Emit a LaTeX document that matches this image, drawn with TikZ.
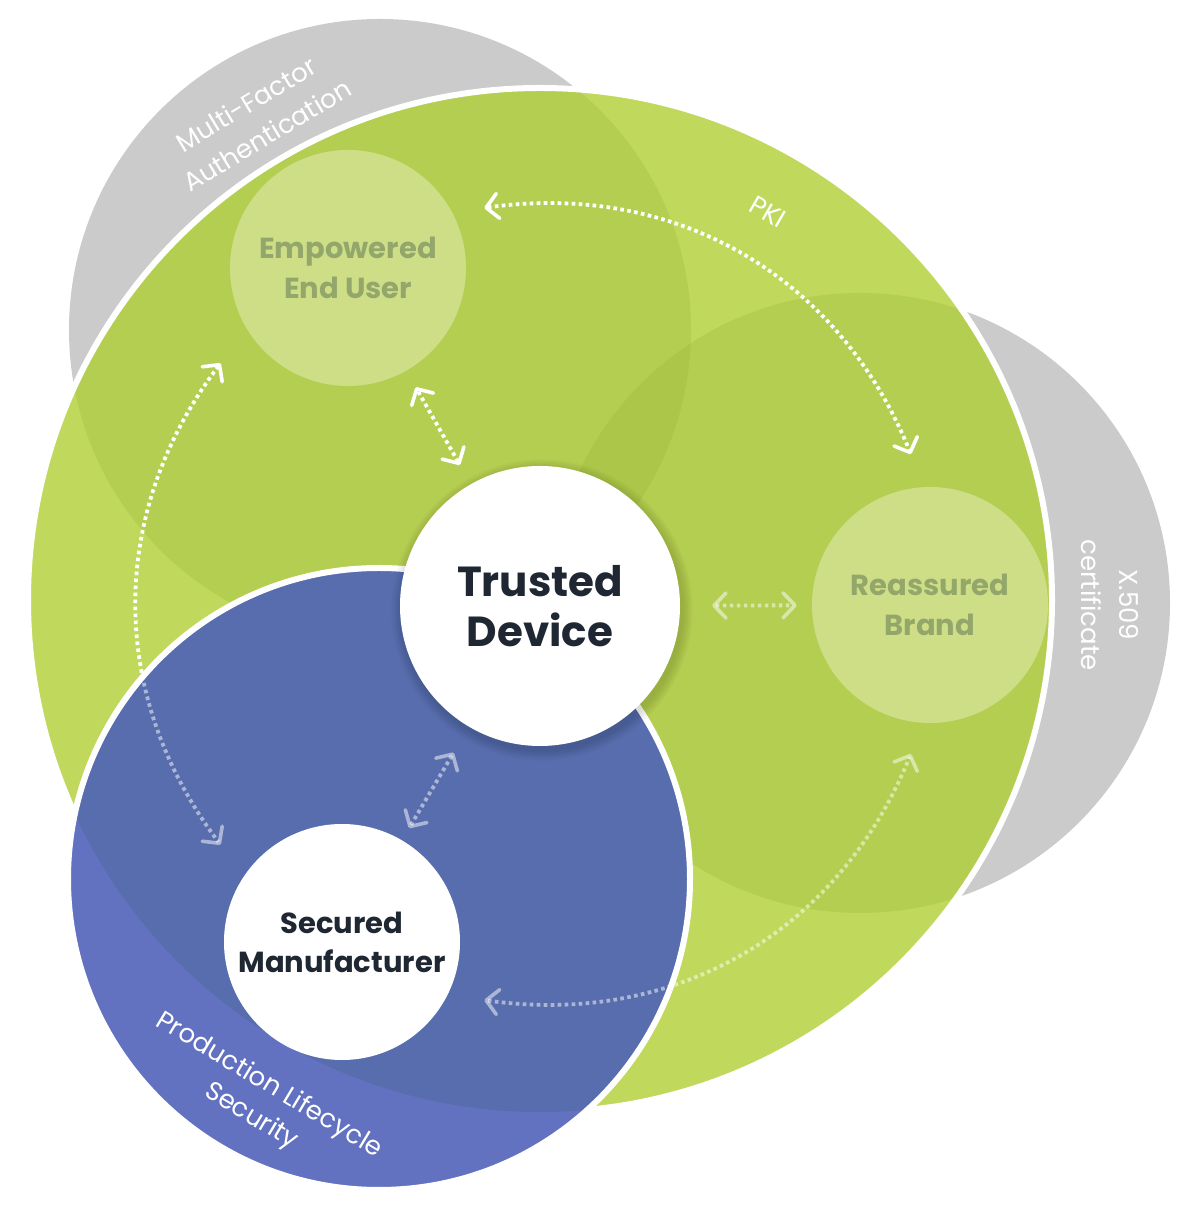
\documentclass[tikz,border=0pt]{standalone}
\usepackage{fontspec}
\setmainfont{Poppins}
\usetikzlibrary{arrows.meta}
\definecolor{grayz}{HTML}{CBCBCB}
\definecolor{greenmain}{HTML}{C0D95C}
\definecolor{olivez}{RGB}{148,177,52}
\definecolor{innergreen}{HTML}{CEDE87}
\definecolor{innertext}{HTML}{94A76B}
\definecolor{blueout}{HTML}{6272C1}
\definecolor{bluein}{HTML}{586DAD}
\definecolor{darktext}{HTML}{1F2733}
\tikzset{
  chev/.tip={Straight Barb[length=12pt,width=25pt,line width=3.6pt,round]},
  arr/.style={draw=white, line width=3.8pt, dash pattern=on 3.6pt off 3.4pt, chev-chev},
  faded/.style={arr, opacity=0.5},
  innerzone/.style={circle, fill=innergreen, minimum size=236pt, inner sep=0pt, text=innertext, align=center, font=\bfseries\fontsize{29}{40}\selectfont},
  corezone/.style={circle, fill=white, inner sep=0pt, text=darktext, align=center},
  zonelabel/.style={text=white, inner sep=0pt, font=\fontsize{26}{37}\selectfont}
}
\begin{document}
\begin{tikzpicture}[x=1pt,y=1pt]
\useasboundingbox (0,0) rectangle (1200,1221);
% gray zone circles behind
\fill[grayz] (380,891) circle (311pt);
\fill[grayz] (860,618) circle (310pt);
% main green circle
\fill[greenmain] (540,621) circle (512pt);
\begin{scope}
  \clip (540,621) circle (512pt);
  \fill[olivez, opacity=0.25] (380,891) circle (311pt);
  \fill[olivez, opacity=0.25] (860,618) circle (310pt);
\end{scope}
\draw[white, line width=6pt] (540,621) circle (512pt);
% arc end points
\coordinate (c) at (540,617);
\coordinate (pkiA) at ([shift={(98:400pt)}]c);
\coordinate (pkiB) at ([shift={(22:400pt)}]c);
\coordinate (lfA) at ([shift={(143:400pt)}]c);
\coordinate (lfB) at ([shift={(217:400pt)}]c);
\coordinate (btA) at ([shift={(262:400pt)}]c);
\coordinate (btB) at ([shift={(338:400pt)}]c);
\draw[arr] (pkiA) to[bend left=38] (pkiB);
\draw[arr] (lfA) to[bend right=37] (lfB);
% blue zone
\fill[blueout] (379,342) circle (311pt);
\begin{scope}
  \clip (540,621) circle (512pt);
  \fill[bluein] (379,342) circle (311pt);
\end{scope}
\draw[white, line width=6pt] (379,342) circle (311pt);
\begin{scope}
  \clip (379,342) circle (308pt);
  \draw[faded] (lfA) to[bend right=37] (lfB);
\end{scope}
% inner nodes
\node[innerzone] (user) at (348,953) {Empowered\\End User};
\node[innerzone] (brand) at (930,616) {Reassured\\Brand};
\foreach \i in {1,...,9}{
  \pgfmathsetmacro{\rr}{140+\i*1.2}
  \fill[black, opacity=0.014] (542,611) circle (\rr pt);
}
\node[corezone, minimum size=280pt, font=\bfseries\fontsize{42}{50}\selectfont] (trusted) at (540,615) {Trusted\\Device};
\node[corezone, minimum size=236pt, font=\bfseries\fontsize{29}{39}\selectfont] (maker) at (342,279) {Secured\\Manufacturer};
% straight connectors
\draw[arr, shorten <=22pt, shorten >=19pt] (trusted) -- (user);
\draw[faded, shorten <=32pt, shorten >=15pt] (trusted) -- (brand);
\draw[faded, shorten <=30pt, shorten >=14pt] (trusted) -- (maker);
\draw[faded] (btA) to[bend right=38] (btB);
% zone labels
\node[zonelabel, rotate=-30] (pki) at (768,1009) {PKI};
\node[zonelabel, rotate=31] (mfa1) at (246,1117) {Multi-Factor};
\node[zonelabel, rotate=31] (mfa2) at (267,1086) {Authentication};
\node[zonelabel, rotate=-90] (x1) at (1129,616) {X.509};
\node[zonelabel, rotate=-90] (x2) at (1091,616) {certificate};
\node[zonelabel, rotate=-31] (pls1) at (269,135) {Production Lifecycle};
\node[zonelabel, rotate=-31] (pls2) at (251,104) {Security};
\end{tikzpicture}
\end{document}
